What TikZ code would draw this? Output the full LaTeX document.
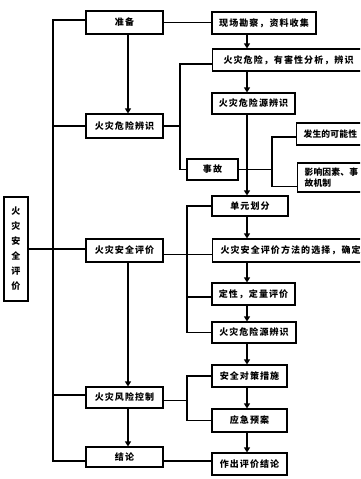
\documentclass[tikz,border=0pt]{standalone}
\usepackage{fontspec}
\setmainfont{Noto Sans CJK SC}[LetterSpace=12]
\newfontfamily\tightcjk{Noto Sans CJK SC}[LetterSpace=2]
\usetikzlibrary{arrows.meta}
\tikzset{
 bx/.style={draw, line width=1.1pt, inner sep=0pt, font=\bfseries\fontsize{9}{10}\selectfont, align=center},
 lbx/.style={bx, anchor=west, align=left, inner xsep=8pt},
 ln/.style={line width=1.1pt},
 ar/.style={ln, -{Triangle[width=6pt,length=5pt]}},
}
\begin{document}
\begin{tikzpicture}[x=1pt,y=-1pt]
\useasboundingbox (0,0) rectangle (360,479);
\begin{scope}
\clip (0,0) rectangle (360,479);
\coordinate (sp) at (53,0);
\coordinate (lx) at (128,0);
\coordinate (ax) at (247,0);
\coordinate (b1) at (180,0);
\coordinate (b2) at (272,0);
\coordinate (b3) at (187,0);
\coordinate (c461) at (0,461);
% left column
\node[bx, minimum width=24pt, minimum height=104pt, font=\bfseries\fontsize{9}{15}\selectfont] (big) at (16,249) {火\\灾\\安\\全\\评\\价};
\node[bx, minimum width=77pt, minimum height=23pt] (prep) at (124.5,22.5) {准备};
\node[bx, minimum width=77pt, minimum height=24pt] (hid) at (124.5,126) {火灾危险辨识};
\node[bx, minimum width=77pt, minimum height=23pt] (eval) at (124.5,250.5) {火灾安全评价};
\node[bx, minimum width=77pt, minimum height=21pt] (ctrl) at (124.5,397.5) {火灾风险控制};
\node[bx, minimum width=77pt, minimum height=20pt] (concl) at (124.5,457) {结论};
% right column
\node[bx, minimum width=104pt, minimum height=22pt] (r1) at (264,23) {现场勘察，资料收集};
\node[bx, anchor=west, minimum width=152pt, minimum height=22pt] (r2) at (212,60) {火灾危险，有害性分析，辨识};
\node[bx, minimum width=83pt, minimum height=21pt] (r3) at (253.5,103.5) {火灾危险源辨识};
\node[lbx, text width=100pt, minimum height=22pt, inner xsep=7pt, font=\tightcjk\bfseries\fontsize{8.8}{10}\selectfont] (r4) at (296,134) {发生的可能性};
\node[bx, minimum width=51pt, minimum height=21pt] (acc) at (212.5,169.5) {事故};
\node[lbx, text width=100pt, minimum height=29pt, inner xsep=7pt, font=\tightcjk\bfseries\fontsize{8.8}{11}\selectfont] (r5) at (297,177.5) {影响因素、事\\故机制};
\node[bx, minimum width=76pt, minimum height=20pt] (r6) at (250,206) {单元划分};
\node[lbx, text width=180pt, minimum height=23pt] (r7) at (212,250.5) {火灾安全评价方法的选择，确定};
\node[bx, minimum width=83pt, minimum height=22pt] (r8) at (253.5,294) {定性，定量评价};
\node[bx, minimum width=84pt, minimum height=21pt] (r9) at (254,332.5) {火灾危险源辨识};
\node[bx, minimum width=75pt, minimum height=22pt] (r10) at (249.5,376) {安全对策措施};
\node[bx, minimum width=75pt, minimum height=23pt] (r11) at (249.5,420.5) {应急预案};
\node[bx, minimum width=75pt, minimum height=22pt] (r12) at (249.5,464) {作出评价结论};
% spine
\draw[ln] ([yshift=2.5pt]prep.west) -- ([yshift=2.5pt]prep.west -| sp) -- (sp |- c461) -- (c461 -| concl.west);
\draw[ln] (hid.west) -- (hid.west -| sp);
\draw[ln] ([yshift=2.5pt]ctrl.west) -- ([yshift=2.5pt]ctrl.west -| sp);
\draw[ln] (big.east) -- (big.east -| eval.west);
% left arrows
\draw[ar] (prep.south -| lx) -- (hid.north -| lx);
\draw[ar] (eval.south -| lx) -- (ctrl.north -| lx);
\draw[ar] (ctrl.south -| lx) -- (concl.north -| lx);
% left to right links
\draw[ln] (prep.east) -- (prep.east -| r1.west);
\draw[ln] ([yshift=-4pt]r2.west) -- ([yshift=-4pt]r2.west -| b1) -- (b1 |- acc.west) -- (acc.west);
\draw[ln] (hid.east) -- (hid.east -| b1);
\draw[ln] ([yshift=-3pt]r4.west) -- ([yshift=-3pt]r4.west -| b2) -- ([yshift=-9pt]b2 |- r5.west) -- ([yshift=-9pt]r5.west);
\draw[ln] (acc.east) -- (acc.east -| b2);
\draw[ln] (r6.west) -- (r6.west -| b3) -- (b3 |- r9.west) -- (r9.west);
\draw[ln] ([yshift=-3pt]r8.west) -- ([yshift=-3pt]r8.west -| b3);
\draw[ln] ([yshift=-4pt]eval.east) -- ([yshift=-4pt]eval.east -| r7.west);
\draw[ln] (r10.west) -- (r10.west -| b3) -- (b3 |- r11.west) -- (r11.west);
\draw[ln] ([yshift=-3pt]ctrl.east) -- ([yshift=-3pt]ctrl.east -| b3);
\draw[ln] (concl.east |- c461) -- (r12.west |- c461);
% right arrows
\draw[ar] (r1.south -| ax) -- (r2.north -| ax);
\draw[ar] (r2.south -| ax) -- (r3.north -| ax);
\draw[ar] (r3.south -| ax) -- (r6.north -| ax);
\draw[ar] (r6.south -| ax) -- (r7.north -| ax);
\draw[ar] (r7.south -| ax) -- (r8.north -| ax);
\draw[ar] (r8.south -| ax) -- (r9.north -| ax);
\draw[ar] (r9.south -| ax) -- (r10.north -| ax);
\draw[ar] (r10.south -| ax) -- (r11.north -| ax);
\draw[ar] (r11.south -| ax) -- (r12.north -| ax);
\end{scope}
\end{tikzpicture}
\end{document}
